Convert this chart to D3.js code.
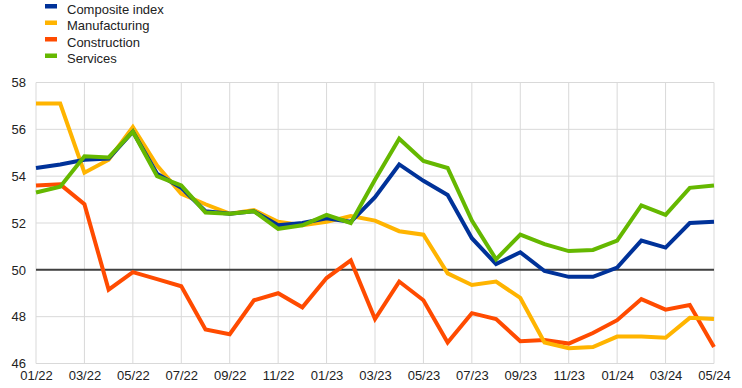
<!DOCTYPE html>
<html>
<head>
<meta charset="utf-8">
<script src="https://cdn.jsdelivr.net/npm/d3@7"></script>
<style>
body { margin: 0; background: #fff; }
text { font-family: "Liberation Sans", Arial, sans-serif; fill: #222; }
</style>
</head>
<body>
<svg width="742" height="388"></svg>
<script>
// months 01/22 .. 05/24
const months = d3.range(29).map(i => {
  const m = i % 12 + 1, y = 22 + Math.floor(i / 12);
  return String(m).padStart(2, "0") + "/" + y;
});
const composite = [54.35, 54.5, 54.7, 54.75, 55.9, 54.1, 53.5, 52.5, 52.4, 52.5, 51.9, 52.0, 52.2, 52.05,
  53.1, 54.5, 53.8, 53.2, 51.35, 50.25, 50.75, 49.95, 49.7, 49.7, 50.1, 51.25, 50.95, 52.0, 52.05];
const manufacturing = [57.1, 57.1, 54.15, 54.7, 56.1, 54.45, 53.25, 52.8, 52.4, 52.55, 52.05, 51.9, 52.05, 52.3,
  52.1, 51.65, 51.5, 49.85, 49.35, 49.5, 48.8, 46.9, 46.65, 46.7, 47.15, 47.15, 47.1, 47.95, 47.9];
const construction = [53.6, 53.65, 52.8, 49.15, 49.9, 49.6, 49.3, 47.45, 47.25, 48.7, 49.0, 48.4, 49.65, 50.4,
  47.9, 49.5, 48.7, 46.9, 48.15, 47.9, 46.95, 47.0, 46.85, 47.3, 47.85, 48.75, 48.3, 48.5, 46.7];
const services = [53.3, 53.55, 54.85, 54.8, 55.9, 54.0, 53.6, 52.45, 52.4, 52.5, 51.75, 51.9, 52.35, 52.0,
  53.85, 55.6, 54.65, 54.35, 52.1, 50.45, 51.5, 51.1, 50.8, 50.85, 51.25, 52.75, 52.35, 53.5, 53.6];
const yTicks = [46, 48, 50, 52, 54, 56, 58];

const series = [
  { name: "Construction", values: construction, color: "#FF4B00" },
  { name: "Manufacturing", values: manufacturing, color: "#FFB400" },
  { name: "Composite index", values: composite, color: "#003299" },
  { name: "Services", values: services, color: "#65B800" }
];
const legendOrder = ["Composite index", "Manufacturing", "Construction", "Services"];

const svg = d3.select("svg");
const x = d3.scaleLinear().domain([0, months.length - 1]).range([36, 714]);
const y = d3.scaleLinear().domain([46, 58]).range([363.5, 82.5]);

// grid
const grid = svg.append("g");
grid.selectAll(".hg").data(yTicks).enter().append("line")
  .attr("x1", x(0)).attr("x2", x(months.length - 1))
  .attr("y1", d => y(d)).attr("y2", d => y(d))
  .attr("stroke", "#d9d9d9").attr("stroke-width", 1);
grid.selectAll(".vg").data(d3.range(0, months.length, 2)).enter().append("line")
  .attr("x1", d => x(d)).attr("x2", d => x(d))
  .attr("y1", y(58)).attr("y2", y(46))
  .attr("stroke", "#d9d9d9").attr("stroke-width", 1);

// 50 line
svg.append("line")
  .attr("x1", x(0)).attr("x2", x(months.length - 1))
  .attr("y1", y(50)).attr("y2", y(50))
  .attr("stroke", "#404040").attr("stroke-width", 2);

// axes labels
const yAxis = d3.axisLeft(y).tickValues(yTicks).tickSize(0).tickPadding(10);
svg.append("g").attr("transform", "translate(" + x(0) + ",0)").call(yAxis)
  .call(g => g.select(".domain").remove())
  .selectAll("text").style("font-size", "13px").attr("fill", "#222");

const xAxis = d3.axisBottom(x).tickValues(d3.range(0, months.length, 2))
  .tickFormat(i => months[i]).tickSize(0).tickPadding(7);
svg.append("g").attr("transform", "translate(0," + y(46) + ")").call(xAxis)
  .call(g => g.select(".domain").remove())
  .selectAll("text").style("font-size", "13px").attr("fill", "#222");

// lines
const line = d3.line().x((d, i) => x(i)).y(d => y(d));
svg.selectAll(".series").data(series).enter().append("path")
  .attr("d", d => line(d.values))
  .attr("fill", "none")
  .attr("stroke", d => d.color)
  .attr("stroke-width", 4)
  .attr("stroke-linejoin", "miter");

// legend
const lg = svg.append("g").selectAll("g")
  .data(legendOrder.map(n => series.find(s => s.name === n)))
  .enter().append("g")
  .attr("transform", (d, i) => "translate(45," + (9 + i * 16.5) + ")");
lg.append("rect").attr("x", 0).attr("y", -5).attr("width", 12).attr("height", 4.5)
  .attr("fill", d => d.color);
lg.append("text").attr("x", 22).attr("y", 0).attr("dy", "0.35em")
  .style("font-size", "13px").text(d => d.name);
</script>
</body>
</html>
